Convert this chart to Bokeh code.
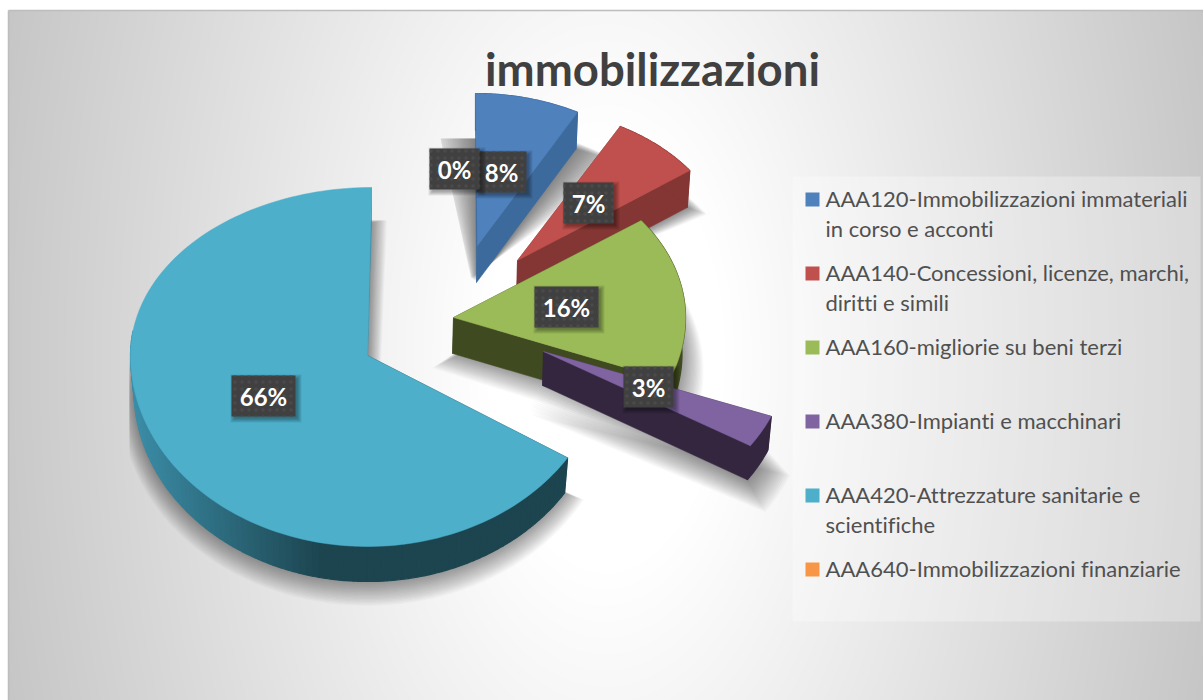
import numpy as np
from bokeh.plotting import figure
from bokeh.core.properties import value
from bokeh.embed import file_html
from bokeh.resources import INLINE

TITLE = "immobilizzazioni"
CODES = ["AAA120", "AAA140", "AAA160", "AAA380", "AAA420", "AAA640"]
LEGEND_LINES = [
    ["AAA120-Immobilizzazioni immateriali", "in corso e acconti"],
    ["AAA140-Concessioni, licenze, marchi,", "diritti e simili"],
    ["AAA160-migliorie su beni terzi"],
    ["AAA380-Impianti e macchinari"],
    ["AAA420-Attrezzature sanitarie e", "scientifiche"],
    ["AAA640-Immobilizzazioni finanziarie"],
]
SHARES = [8, 7, 16, 3, 66, 0]
LABELS = ["8%", "7%", "16%", "3%", "66%", "0%"]
COLORS = ["#4F81BD", "#C0504D", "#9BBB59", "#8064A2", "#4DAFCA", "#F79646"]
WALLS = ["#3D6A9C", "#843634", "#3F4A20", "#34263F", "#1D4550", "#B8702F"]

# projection of each exploded slice: apex, radii, wall depth, lean of the far edge
APEX = [(477, 245), (517, 260), (453, 317), (543, 351), (367, 355), (470, 240)]
RX = [210, 213, 232, 245, 237, 210]
RY_UP = [152, 153, 165, 176, 168, 152]
RY_DOWN = [152, 153, 171, 176, 191, 152]
DEPTH = [37, 37, 36, 34, 35, 36]
LEAN = [-2, 0, 0, 0, 4, 0]
# label boxes: centre and width on the page
LABEL_X = [501, 588, 566, 648, 263, 454]
LABEL_Y = [171.5, 202.5, 306.5, 386.5, 395.5, 168.5]
LABEL_W = [50, 50, 64, 50, 64, 50]
# shadows: clamp limits (top y, left x), spread, angular widening per layer, layer opacity
SHADOW_TOP = [138, 160, 230, 370, 155, 0]
SHADOW_LEFT = [440, 500, 430, 530, 129, 0]
SHADOW_SPREAD = [2.0, 1.6, 1.6, 1.7, 1.0, 1.0]
SHADOW_ANGLE = [.6, .05, .1, .03, .2, 0]
SHADOW_ALPHA = [.032, .026, .024, .028, .022, 0]

W, H = 1203, 700
p = figure(width=W, height=H, x_range=(0, 1203), y_range=(700, 0), toolbar_location=None,
           output_backend="svg", min_border=0, outline_line_color=None, background_fill_color="white")
p.axis.visible = False
p.grid.visible = False

# background radial gradient
gx, gy = np.meshgrid(np.arange(8, 1203, 1.0) + .5, np.arange(10, 700, 1.0) + .5)
d = np.hypot(gx - 605, (gy - 355) * .55)
lev = np.clip(255 - .112 * np.clip(d - 120, 0, None), 0, 255).astype(np.uint32)
img = (255 << 24) | (lev << 16) | (lev << 8) | lev
p.image_rgba(image=[img.astype(np.uint32)], x=8, y=10, dw=1195, dh=690, origin="top_left")
p.segment([8, 8], [10, 10], [1203, 8], [10, 700], line_color="#bdbdbd", line_width=1.5)


def point(i, a, wall=False, grow=0.0):
    ax, ay = APEX[i]
    u, v = np.sin(a), np.cos(a)
    rx = RX[i] * (.985 if wall else 1) + grow
    ryu = RY_UP[i] + grow
    ryd = RY_DOWN[i] + grow
    x = ax + rx * u + LEAN[i] * np.clip(v, 0, None) ** 4
    y = ay - np.where(v > 0, ryu, ryd) * v
    if wall:
        y = y + DEPTH[i]
    return x, y


cum = np.cumsum([0] + SHARES) / sum(SHARES) * 2 * np.pi

# soft shadows
for i in range(5):
    a0, a1 = cum[i], cum[i + 1]
    n = 18
    for k in range(n):
        g = (n - k) * .75 * SHADOW_SPREAD[i]
        da = np.radians((n - k) * SHADOW_ANGLE[i])
        t = np.linspace(a0 - da, a1 + da, 120)
        x, y = point(i, t, True, g)
        y = y + g * .8
        ax, ay = APEX[i]
        mid = (a0 + a1) / 2
        x = np.r_[ax - g * np.sin(mid), x]
        y = np.r_[ay + DEPTH[i] + g * .8 - g * np.cos(mid), y]
        x = np.maximum(x, SHADOW_LEFT[i])
        y = np.maximum(y, SHADOW_TOP[i])
        p.patch(x, y, fill_color="black", fill_alpha=SHADOW_ALPHA[i], line_color=None)

# slices: walls first, then the top face
for i in range(5):
    a0, a1 = cum[i], cum[i + 1]
    ax, ay = APEX[i]
    for a in (a0, a1):
        ox, oy = point(i, a)
        bx, by = point(i, a, True)
        c = "#3C8AA3" if (i == 4 and a == a1) else WALLS[i]
        p.patch([ax, ox, bx, ax - 1], [ay, oy, by, ay + DEPTH[i]], fill_color=c, line_color=c, line_width=.5)
    # outer wall
    n = 140 if i == 4 else 1
    edges = np.linspace(a0, a1, n + 1)
    for s in range(n):
        t = np.linspace(edges[s], edges[s + 1], 4 if i == 4 else 60)
        tx, ty = point(i, t)
        bx, by = point(i, t, True)
        c = WALLS[i]
        if i == 4:
            if t.mean() > 1.55 * np.pi:
                continue
            xm = tx.mean()
            f = np.clip((320 - xm) / 190, 0, 1)
            c0, c1 = np.array([0x1D, 0x45, 0x50]), np.array([0x3C, 0x8E, 0xA8])
            r, g, b = (c0 + (c1 - c0) * f).astype(int)
            c = f"#{r:02x}{g:02x}{b:02x}"
        p.patch(np.r_[tx, bx[::-1]], np.r_[ty, by[::-1]], fill_color=c, line_color=c, line_width=1.2)
    t = np.linspace(a0, a1, 160)
    tx, ty = point(i, t)
    p.patch(np.r_[ax, tx], np.r_[ay, ty], fill_color=COLORS[i], line_color=COLORS[i], line_width=.5)

# data labels
for i in [0, 5, 1, 2, 3, 4]:
    cx, cy, w = LABEL_X[i], LABEL_Y[i], LABEL_W[i]
    for k in range(5):
        g = 5 - k
        p.quad(left=cx - w / 2 + 4 - g, right=cx + w / 2 + 1 + g, top=cy - 20.5 + 4 - g, bottom=cy + 20.5 + 1 + g,
               fill_color="black", fill_alpha=.08, line_color=None)
    p.quad(left=cx - w / 2, right=cx + w / 2, top=cy - 20.5, bottom=cy + 20.5, fill_color="#404040", line_color=None,
           hatch_pattern="dot", hatch_color="#4a4a4a", hatch_scale=7, hatch_weight=1)
    p.text([cx], [cy], text=[LABELS[i]], text_color="white", text_align="center", text_baseline="middle",
           text_font=value("Lato"), text_font_style="bold", text_font_size="24px")

# title
p.text([652], [68], text=[TITLE], text_color="#404040", text_align="center", text_baseline="middle",
       text_font=value("Lato"), text_font_style="bold", text_font_size="45.5px")

# legend
p.quad(left=792, right=1200, top=176, bottom=621, fill_color="white", fill_alpha=.3, line_color=None)
MARK_Y = [199, 273, 347, 421, 495, 569]
LINE_H = 30
for i, lines in enumerate(LEGEND_LINES):
    my = MARK_Y[i]
    p.quad(left=805, right=819, top=my - 7, bottom=my + 7, fill_color=COLORS[i], line_color=None)
    for j, s in enumerate(lines):
        p.text([825], [my - 1 + j * LINE_H], text=[s], text_color="#505050", text_align="left", text_baseline="middle",
               text_font=value("Lato"), text_font_size="22px")

html = file_html(p, INLINE)
html = html.replace("<head>", "<head><style>html,body{font-variant-ligatures:none;overflow:hidden}</style>", 1)
open("out.html", "w").write(html)
